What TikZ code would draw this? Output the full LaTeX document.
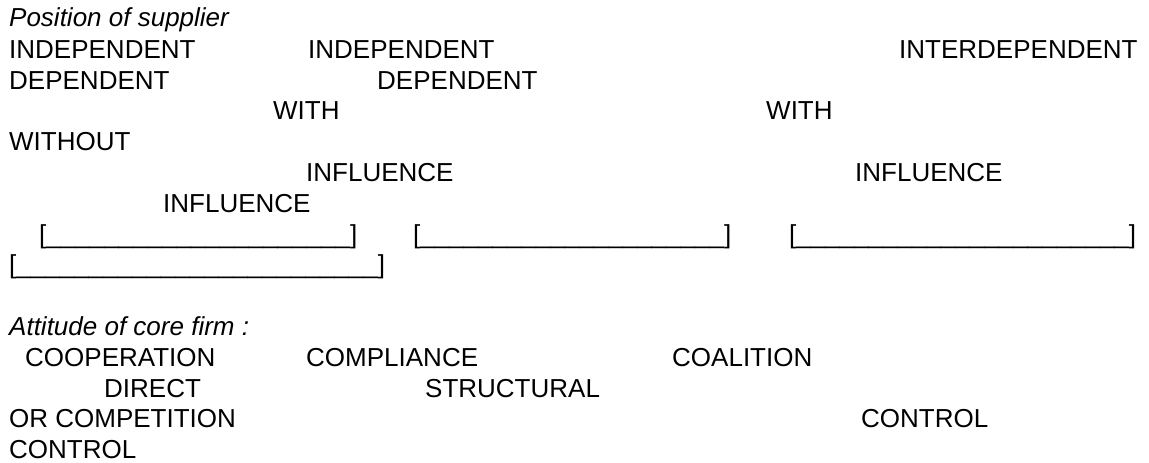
\documentclass[tikz,border=0pt]{standalone}
\usepackage{fontspec}
\setmainfont{Liberation Sans}
\usepackage{tikz}
\tikzset{%
  word/.style={anchor=base west, inner sep=0pt, font=\fontsize{26pt}{30pt}\selectfont},
  title/.style={word, font=\fontsize{26pt}{30pt}\selectfont\itshape}
}
\newcommand{\blankfield}[1]{[\foreach \n in {1,...,#1}{\_}]}

\begin{document}
\begin{tikzpicture}[x=1pt,y=-1pt]
  \useasboundingbox (0,0) rectangle (1149,463);
  \node[title] (pos) at (9,27) {Position of supplier};
  \node[word] (ind1) at (9,58) {INDEPENDENT};
  \node[word] (ind2) at (308,58) {INDEPENDENT};
  \node[word] (inter) at (899,58) {INTERDEPENDENT};
  \node[word] (dep1) at (9,89) {DEPENDENT};
  \node[word] (dep2) at (377,89) {DEPENDENT};
  \node[word] (with1) at (273,119) {WITH};
  \node[word] (with2) at (766,119) {WITH};
  \node[word] (without) at (9,150) {WITHOUT};
  \node[word] (infl1) at (306,181) {INFLUENCE};
  \node[word] (infl2) at (855,181) {INFLUENCE};
  \node[word] (infl3) at (163,212) {INFLUENCE};
  \node[word] (f1) at (39,243) {\blankfield{21}};
  \node[word] (f2) at (413,243) {\blankfield{21}};
  \node[word] (f3) at (789,243) {\blankfield{23}};
  \node[word] (f4) at (9,273) {\blankfield{25}};
  \node[title] (att) at (9,335) {Attitude of core firm :};
  \node[word] (coop) at (25,366) {COOPERATION};
  \node[word] (compl) at (306,366) {COMPLIANCE};
  \node[word] (coal) at (672,366) {COALITION};
  \node[word] (direct) at (104,397) {DIRECT};
  \node[word] (struct) at (425,397) {STRUCTURAL};
  \node[word] (orcomp) at (9,427) {OR COMPETITION};
  \node[word] (ctrl1) at (861,427) {CONTROL};
  \node[word] (ctrl2) at (9,458) {CONTROL};
\end{tikzpicture}
\end{document}
